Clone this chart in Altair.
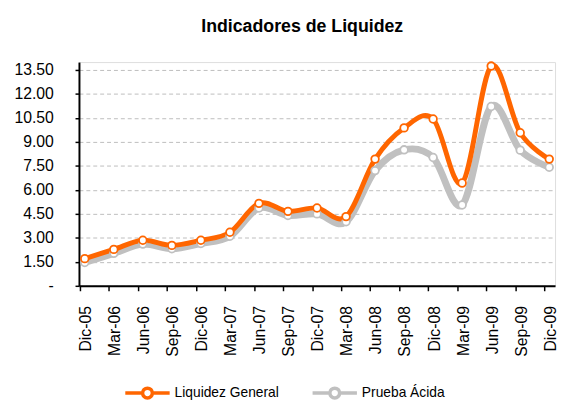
import altair as alt
import pandas as pd

periods = ["Dic-05", "Mar-06", "Jun-06", "Sep-06", "Dic-06", "Mar-07", "Jun-07", "Sep-07",
           "Dic-07", "Mar-08", "Jun-08", "Sep-08", "Dic-08", "Mar-09", "Jun-09", "Sep-09", "Dic-09"]
liquidez_general = [1.70, 2.28, 2.85, 2.53, 2.85, 3.35, 5.16, 4.66, 4.87, 4.33, 7.93, 9.88,
                    10.44, 6.43, 13.75, 9.58, 7.93]
prueba_acida = [1.46, 2.03, 2.61, 2.32, 2.65, 3.10, 4.87, 4.40, 4.50, 4.01, 7.21, 8.51,
                8.03, 5.06, 11.22, 8.49, 7.42]
series_names = ["Liquidez General", "Prueba Ácida"]
series_colors = ["#FF6600", "#C0C0C0"]
y_ticks = [0, 1.5, 3, 4.5, 6, 7.5, 9, 10.5, 12, 13.5]

rows = []
for s, vals in zip(series_names, [liquidez_general, prueba_acida]):
    for i, (p, v) in enumerate(zip(periods, vals)):
        rows.append({"periodo": p, "serie": s, "valor": v, "orden": 0 if s == series_names[0] else 1})
df = pd.DataFrame(rows)

x_enc = alt.X("periodo:N", sort=periods, title=None,
              scale=alt.Scale(type="point", padding=0.2),
              axis=alt.Axis(labelAngle=270, labelAlign="right", labelBaseline="middle",
                            labelFontSize=16, labelFont="Liberation Sans", labelColor="#000000",
                            labelPadding=15, tickSize=5, tickColor="#000000", tickWidth=1.5,
                            tickOffset=-5, labelOffset=6,
                            domainColor="#000000", domainWidth=2, grid=False))
y_enc = alt.Y("valor:Q", title=None,
              scale=alt.Scale(domain=[0, 14], nice=False, zero=True),
              axis=alt.Axis(values=y_ticks,
                            labelExpr="datum.value == 0 ? '-' : format(datum.value, '.2f')",
                            labelFontSize=16, labelFont="Liberation Sans", labelColor="#000000",
                            labelPadding=22, tickSize=4, tickColor="#000000", tickWidth=1.5,
                            domainColor="#000000", domainWidth=2,
                            grid=True, gridColor="#BDBDBD", gridDash=[4, 3], gridWidth=1))

legend_symbol = "M-1,0H-0.22M0.22,0H1M0.22,0A0.22,0.22,0,1,1,-0.22,0A0.22,0.22,0,1,1,0.22,0"

color_enc = alt.Color("serie:N", scale=alt.Scale(domain=series_names, range=series_colors),
                      legend=alt.Legend(title=None, orient="none", legendX=45, legendY=311,
                                        direction="horizontal", symbolType=legend_symbol,
                                        symbolSize=2025, symbolStrokeWidth=3.5,
                                        symbolFillColor="white", labelFontSize=14,
                                        labelFont="Liberation Sans", labelColor="#000000",
                                        labelOffset=3, columnPadding=27))

base = alt.Chart(df)

gray_line = base.transform_filter(alt.datum.serie == series_names[1]).mark_line(
    interpolate="cardinal", strokeWidth=7).encode(x=x_enc, y=y_enc, color=color_enc)
orange_line = base.transform_filter(alt.datum.serie == series_names[0]).mark_line(
    interpolate="cardinal", strokeWidth=5).encode(x=x_enc, y=y_enc, color=color_enc)
points = base.mark_point(filled=False, fill="white", fillOpacity=1, size=60,
                         strokeWidth=1.8, opacity=1, shape="circle").encode(
    x=x_enc, y=y_enc, color=alt.Color("serie:N", scale=alt.Scale(domain=series_names, range=series_colors), legend=None),
    order=alt.Order("orden:Q", sort="descending"))

chart = alt.layer(gray_line, orange_line, points).properties(
    width=483, height=227,
    title=alt.TitleParams("Indicadores de Liquidez", fontSize=18, font="Liberation Sans",
                          fontWeight="bold", color="#000000", anchor="middle", offset=20, dx=-15),
    autosize=alt.AutoSizeParams(type="none"),
    padding={"left": 72, "top": 52, "right": 3, "bottom": 114},
).configure_view(stroke=None).configure(background="white")

chart.save("out.html", embed_options={"renderer": "svg", "actions": False})
